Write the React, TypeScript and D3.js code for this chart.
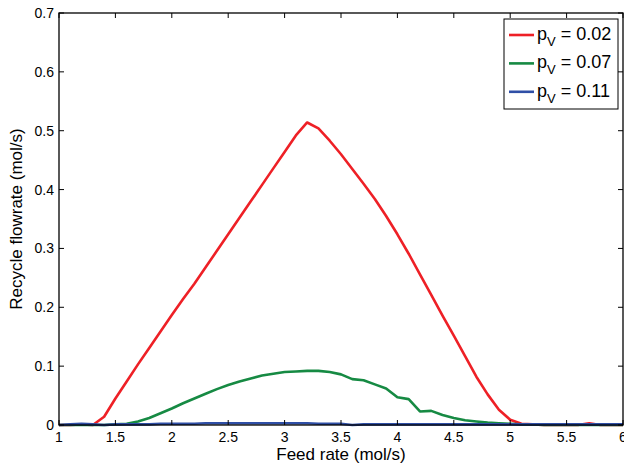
import React, { useRef, useEffect } from "react";
import * as d3 from "d3";

// Feed rate (mol/s)
const feedRate = [
  1.0, 1.1, 1.2, 1.3, 1.4, 1.5, 1.6, 1.7, 1.8, 1.9, 2.0, 2.1, 2.2, 2.3, 2.4, 2.5,
  2.6, 2.7, 2.8, 2.9, 3.0, 3.1, 3.2, 3.3, 3.4, 3.5, 3.6, 3.7, 3.8, 3.9, 4.0, 4.1,
  4.2, 4.3, 4.4, 4.5, 4.6, 4.7, 4.8, 4.9, 5.0, 5.1, 5.2, 5.3, 5.4, 5.5, 5.6, 5.7,
  5.8, 5.9, 6.0,
];

// Recycle flowrate (mol/s) por serie
const recycle002 = [
  0, 0, 0.001, 0, 0.014, 0.045, 0.074, 0.103, 0.131, 0.159, 0.187, 0.214, 0.24,
  0.268, 0.296, 0.324, 0.352, 0.38, 0.408, 0.436, 0.464, 0.492, 0.514, 0.504,
  0.483, 0.46, 0.435, 0.41, 0.384, 0.355, 0.324, 0.291, 0.256, 0.221, 0.186,
  0.152, 0.117, 0.082, 0.052, 0.026, 0.009, 0.002, 0.001, 0, 0, 0, 0, 0.003, 0,
  0, 0,
];
const recycle007 = [
  0, 0, 0, 0, 0, 0.001, 0.002, 0.006, 0.012, 0.02, 0.028, 0.037, 0.045, 0.053,
  0.061, 0.068, 0.074, 0.079, 0.084, 0.087, 0.09, 0.091, 0.092, 0.092, 0.09,
  0.086, 0.078, 0.076, 0.069, 0.062, 0.047, 0.044, 0.023, 0.024, 0.017, 0.012,
  0.008, 0.006, 0.004, 0.003, 0.002, 0.001, 0.001, 0, 0, 0, 0, 0, 0, 0, 0,
];
const recycle011 = [
  0, 0.001, 0.002, 0.001, 0, 0.001, 0.001, 0.001, 0.001, 0.002, 0.002, 0.002,
  0.002, 0.003, 0.003, 0.003, 0.003, 0.003, 0.003, 0.003, 0.003, 0.003, 0.003,
  0.002, 0.002, 0.002, 0, 0.001, 0.001, 0.001, 0.001, 0.001, 0.001, 0.001,
  0.001, 0.001, 0.001, 0.001, 0.001, 0.001, 0.001, 0.001, 0.001, 0.001, 0.001,
  0.001, 0.001, 0.001, 0.001, 0.001, 0.001,
];

const seriesLabels = ["0.02", "0.07", "0.11"];
const seriesColors = ["#ee2026", "#168a43", "#2f4fa6"];
const xTicks = [1, 1.5, 2, 2.5, 3, 3.5, 4, 4.5, 5, 5.5, 6];
const yTicks = [0, 0.1, 0.2, 0.3, 0.4, 0.5, 0.6, 0.7];

const RecycleChart = ({ width = 624, height = 468 }) => {
  const d3Container = useRef<SVGSVGElement>(null);

  useEffect(() => {
    const container = d3Container.current;
    if (!container) return;
    const margin = { top: 13, right: 1, bottom: 43, left: 59 };
    const w = width - margin.left - margin.right;
    const h = height - margin.top - margin.bottom;

    d3.select(container).selectChildren().remove();

    const svg = d3
      .select(container)
      .append("g")
      .style("font-family", "'Liberation Sans', Arial, sans-serif")
      .attr("transform", `translate(${margin.left}, ${margin.top})`);

    const x = d3.scaleLinear().domain([1, 6]).range([0, w]);
    const y = d3.scaleLinear().domain([0, 0.7]).range([h, 0]);

    // fondo
    svg.append("rect").attr("width", w).attr("height", h).attr("fill", "#fff");

    // Curvas
    const series = [recycle002, recycle007, recycle011];
    const line = d3
      .line<number>()
      .x((_, i) => x(feedRate[i]))
      .y((d) => y(d));
    series.forEach((s, k) => {
      svg
        .append("path")
        .datum(s)
        .attr("fill", "none")
        .attr("stroke", seriesColors[k])
        .attr("stroke-width", 2.6)
        .attr("stroke-linejoin", "round")
        .attr("d", line);
    });

    // Ejes (estilo MATLAB, ticks hacia dentro, en los 4 lados)
    const tick = 5;
    const axes = svg.append("g").attr("stroke", "#000").attr("stroke-width", 1);
    xTicks.forEach((t) => {
      axes.append("line").attr("x1", x(t)).attr("x2", x(t)).attr("y1", h).attr("y2", h - tick);
      axes.append("line").attr("x1", x(t)).attr("x2", x(t)).attr("y1", 0).attr("y2", tick);
    });
    yTicks.forEach((t) => {
      axes.append("line").attr("x1", 0).attr("x2", tick).attr("y1", y(t)).attr("y2", y(t));
      axes.append("line").attr("x1", w).attr("x2", w - tick).attr("y1", y(t)).attr("y2", y(t));
    });
    svg
      .append("rect")
      .attr("width", w)
      .attr("height", h)
      .attr("fill", "none")
      .attr("stroke", "#000")
      .attr("stroke-width", 1.3);

    // Etiquetas de ticks
    svg
      .append("g")
      .selectAll("text")
      .data(xTicks)
      .enter()
      .append("text")
      .attr("x", (d) => x(d))
      .attr("y", h + 17)
      .attr("text-anchor", "middle")
      .style("font-size", "14px")
      .text((d) => String(d));
    svg
      .append("g")
      .selectAll("text")
      .data(yTicks)
      .enter()
      .append("text")
      .attr("x", -5)
      .attr("y", (d) => y(d) + 5)
      .attr("text-anchor", "end")
      .style("font-size", "14px")
      .text((d) => String(d));

    // Títulos de ejes
    svg
      .append("text")
      .attr("x", w / 2)
      .attr("y", h + 35)
      .attr("text-anchor", "middle")
      .style("font-size", "17px")
      .text("Feed rate (mol/s)");
    svg
      .append("text")
      .attr("transform", "rotate(-90)")
      .attr("x", -h / 2)
      .attr("y", -37)
      .attr("text-anchor", "middle")
      .style("font-size", "17px")
      .text("Recycle flowrate (mol/s)");

    // Leyenda
    const lx = 504 - margin.left;
    const ly = 19 - margin.top;
    const legend = svg.append("g").attr("transform", `translate(${lx}, ${ly})`);
    legend
      .append("rect")
      .attr("width", 114)
      .attr("height", 90)
      .attr("fill", "#fff")
      .attr("stroke", "#000")
      .attr("stroke-width", 1);
    seriesLabels.forEach((lab, k) => {
      const cy = 16 + k * 28.4;
      legend
        .append("line")
        .attr("x1", 5)
        .attr("x2", 30)
        .attr("y1", cy)
        .attr("y2", cy)
        .attr("stroke", seriesColors[k])
        .attr("stroke-width", 2.6);
      const txt = legend
        .append("text")
        .attr("x", 33)
        .attr("y", cy + 5)
        .style("font-size", "18px");
      txt.append("tspan").text("p");
      txt.append("tspan").attr("dy", 6).style("font-size", "13px").text("V");
      txt.append("tspan").attr("dy", -6).text(` = ${lab}`);
    });
  }, [width, height]);

  return (
    <svg
      width={width}
      height={height}
      ref={d3Container}
      style={{ position: "absolute", left: 0, top: 0, background: "#fff" }}
    />
  );
};

export default function App() {
  return <RecycleChart />;
}
